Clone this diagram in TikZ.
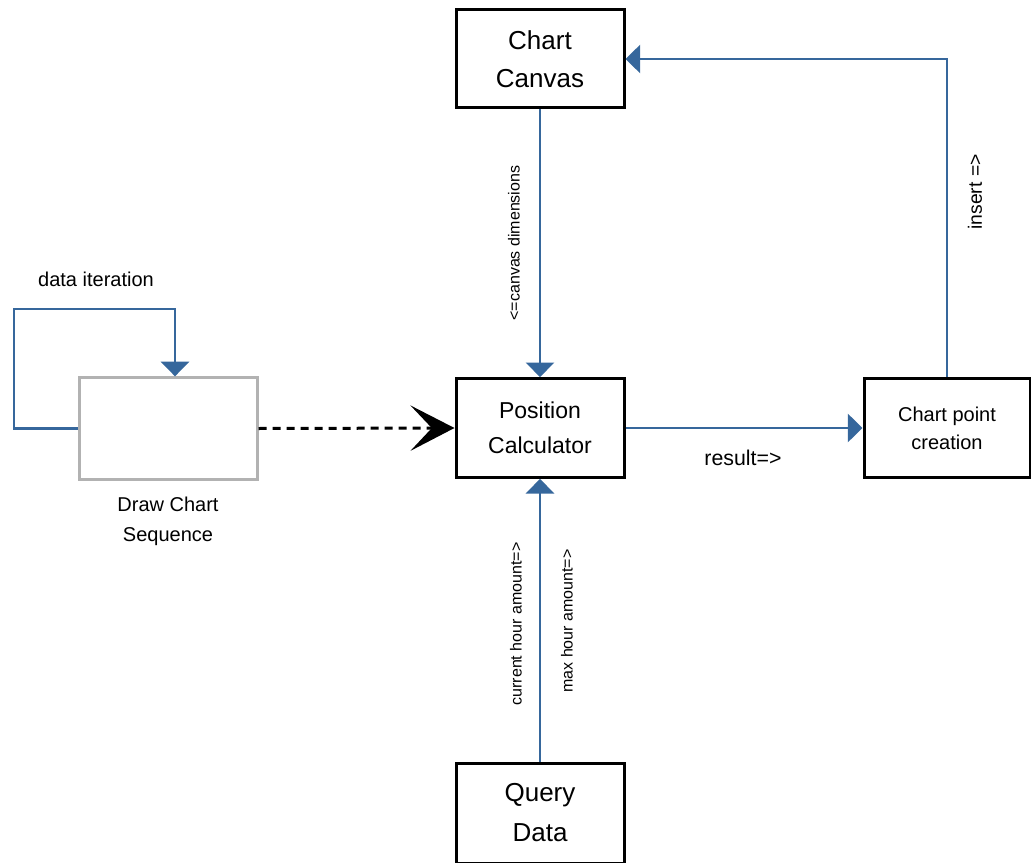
\documentclass[tikz,border=0pt]{standalone}
\usepackage{fontspec}
\setmainfont{Liberation Sans}
\usetikzlibrary{arrows.meta}
\definecolor{flowblue}{RGB}{54,103,156}
\definecolor{seqgray}{RGB}{178,178,178}

\begin{document}
\begin{tikzpicture}[
x=0.75pt, y=-0.75pt,
box/.style={draw=black, line width=2.25pt, fill=white, align=center, inner sep=0pt},
flow/.style={draw=flowblue, line width=2.2pt, -{Triangle[width=21pt,length=11pt]}},
hint/.style={inner sep=0pt, align=center},
vhint/.style={inner sep=0pt, rotate=90, font=\fontsize{12}{14}\selectfont},
]
\useasboundingbox (0,0) rectangle (1031,863);

\node[box, minimum width=126pt, minimum height=73.5pt, font=\fontsize{19.5}{28.5}\selectfont] (canvas) at (540,59) {Chart\\Canvas};
\node[box, minimum width=126pt, minimum height=74pt, font=\fontsize{17.25}{26}\selectfont] (calc) at (540,428) {Position\\Calculator};
\node[box, minimum width=124.5pt, minimum height=74pt, font=\fontsize{15}{21}\selectfont] (point) at (947,428) {Chart point\\creation};
\node[box, minimum width=126pt, minimum height=75pt, font=\fontsize{19.5}{30}\selectfont] (query) at (540,813) {Query\\Data};
\node[box, draw=seqgray, minimum width=133.5pt, minimum height=76pt] (seq) at (168,428.5) {};
\node[hint, font=\fontsize{15}{22.5}\selectfont] (seqname) at (168,521) {Draw Chart\\Sequence};

\coordinate (loopl) at (14,309);
\coordinate (loopr) at (175,309);

% loop over the data
\draw[flow] (seq.west) -| (loopl) -- (loopr) -- (seq.north -| loopr);
\node[hint, font=\fontsize{15}{18}\selectfont] (iter) at (96,279) {data iteration};

\draw[black, line width=2.25pt, dash pattern=on 6pt off 4.5pt,
  -{Stealth[length=33pt,width=34pt,inset=16pt]}] (seq.east) -- (calc.west);

\draw[flow] (canvas.south) -- (calc.north);
\node[vhint] (dims) at (514,243) {<=canvas dimensions};

\draw[flow] (query.north) -- (calc.south);
\node[vhint] (cur) at (516,624) {current hour amount=>};
\node[vhint] (max) at (567,621) {max hour amount=>};

\draw[flow] (calc.east) -- (point.west);
\node[hint, font=\fontsize{16}{19}\selectfont] (res) at (743,458) {result=>};

\draw[flow] (point.north) |- (canvas.east);
\node[vhint, font=\fontsize{14.5}{17}\selectfont] (ins) at (975,192) {insert =>};

\end{tikzpicture}
\end{document}
